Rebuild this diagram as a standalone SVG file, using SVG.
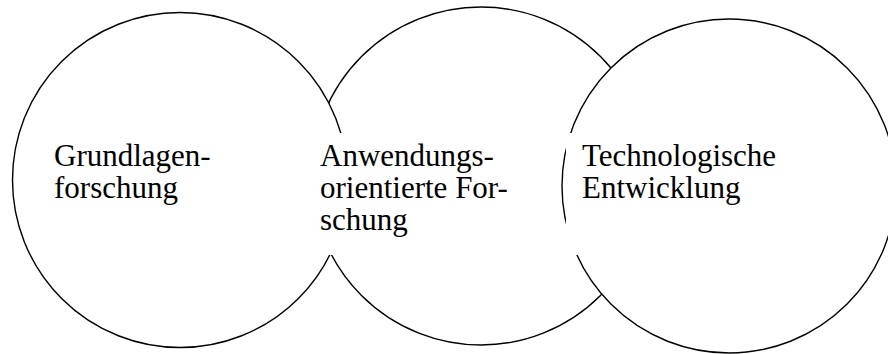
<svg xmlns="http://www.w3.org/2000/svg" width="888" height="354" viewBox="0 0 888 354">
<style>
.c{fill:#fff;stroke:#000;stroke-width:1.4}
.b{fill:#fff;stroke:none}
.t{font-family:"Liberation Serif","Times New Roman",serif;font-size:31px;fill:#000}
</style>
<rect width="888" height="354" fill="#fff"/>
<g id="node-anwendung">
<circle class="c" cx="481" cy="176" r="169"/>
</g>
<g id="node-grundlagen">
<circle class="c" cx="180" cy="180" r="167.5"/>
<text class="t" x="54" y="166">Grundlagen-</text>
<text class="t" x="54" y="198">forschung</text>
</g>
<g id="node-technologie">
<circle class="c" cx="729" cy="186" r="167"/>
</g>
<g id="label-anwendung">
<rect class="b" x="316" y="133" width="200" height="122"/>
<text class="t" x="320" y="166">Anwendungs-</text>
<text class="t" x="320" y="198">orientierte For-</text>
<text class="t" x="320" y="230">schung</text>
</g>
<g id="label-technologie">
<rect class="b" x="566" y="133" width="220" height="122"/>
<text class="t" x="582" y="166">Technologische</text>
<text class="t" x="582" y="198">Entwicklung</text>
</g>
<g id="connectors"></g>
</svg>
